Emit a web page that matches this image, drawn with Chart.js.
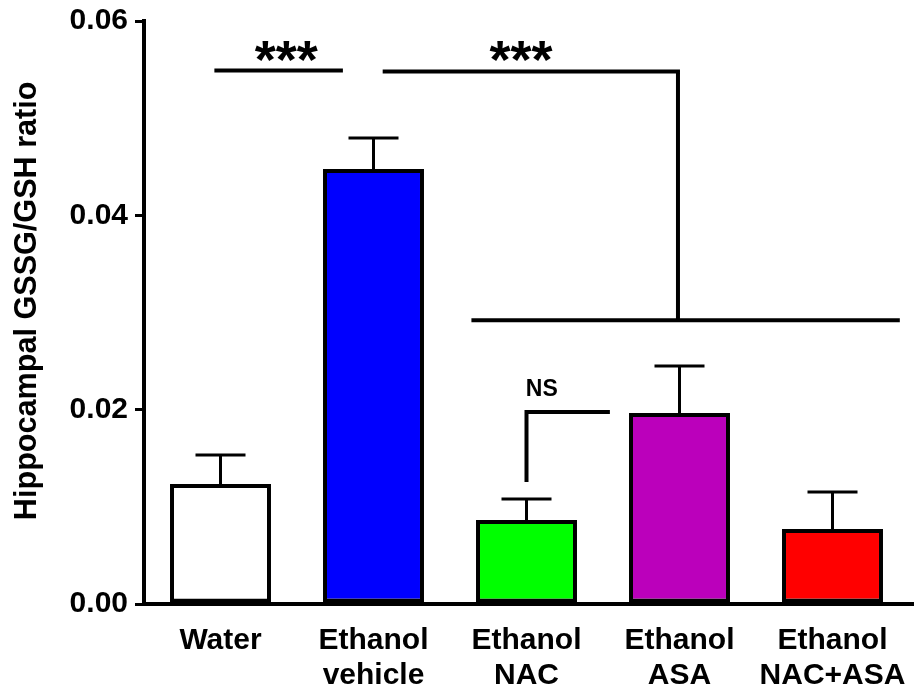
<!DOCTYPE html>
<html>
<head>
<meta charset="utf-8">
<script src="https://cdn.jsdelivr.net/npm/chart.js@4.4.1/dist/chart.umd.min.js"></script>
<style>
html,body{margin:0;padding:0;background:#fff;}
#wrap{width:917px;height:694px;}
</style>
</head>
<body>
<div id="wrap"><canvas id="c" width="917" height="694"></canvas></div>
<script>
// ---- data ----
const categories = [["Water"], ["Ethanol", "vehicle"], ["Ethanol", "NAC"], ["Ethanol", "ASA"], ["Ethanol", "NAC+ASA"]];
const means = [0.01235, 0.04477, 0.00864, 0.01966, 0.00772];
const errors = [0.00298, 0.00319, 0.00217, 0.00483, 0.00381];
const barColors = ["#ffffff", "#0000ff", "#00ff00", "#bb00bb", "#ff0000"];
const yTicks = [0, 0.02, 0.04, 0.06];
const yTitle = "Hippocampal GSSG/GSH ratio";
// significance brackets in data units (x = category index, y = value)
const brackets = [
  [[-0.04, 0.0549], [0.80, 0.0549]],
  [[1.06, 0.0548], [2.99, 0.0548], [2.99, 0.0292]],
  [[1.64, 0.0292], [4.44, 0.0292]],
  [[2.0, 0.01256], [2.0, 0.01976], [2.545, 0.01976]]
];
const sigLabels = [
  {text: "***", x: 0.43, y: 0.0569, size: 54},
  {text: "***", x: 1.964, y: 0.0569, size: 54},
  {text: "NS", x: 2.10, y: 0.02223, size: 23}
];

const FONT = "'Liberation Sans', Arial, Helvetica, sans-serif";

const overlay = {
  id: 'overlay',
  afterDatasetsDraw(chart) {
    const ctx = chart.ctx;
    const xs = chart.scales.x, ys = chart.scales.y;
    const meta = chart.getDatasetMeta(0);
    ctx.save();
    ctx.strokeStyle = '#000';
    ctx.lineCap = 'butt';
    // error bars
    ctx.lineWidth = 3;
    meta.data.forEach((bar, i) => {
      const top = ys.getPixelForValue(means[i]);
      const et = ys.getPixelForValue(means[i] + errors[i]);
      ctx.beginPath();
      ctx.moveTo(bar.x, top);
      ctx.lineTo(bar.x, et);
      ctx.moveTo(bar.x - 25, et);
      ctx.lineTo(bar.x + 25, et);
      ctx.stroke();
    });
    // extend x axis line to right edge
    ctx.lineWidth = 4;
    ctx.beginPath();
    ctx.moveTo(chart.chartArea.right - 2, ys.getPixelForValue(0));
    ctx.lineTo(chart.chartArea.right + 5, ys.getPixelForValue(0));
    ctx.stroke();
    // brackets
    ctx.lineWidth = 4;
    ctx.lineJoin = 'miter';
    brackets.forEach(pts => {
      ctx.beginPath();
      pts.forEach((p, k) => {
        const px = xs.getPixelForValue(p[0]) , py = ys.getPixelForValue(p[1]);
        if (k === 0) ctx.moveTo(px, py); else ctx.lineTo(px, py);
      });
      ctx.stroke();
    });
    // labels
    ctx.fillStyle = '#000';
    sigLabels.forEach(l => {
      ctx.font = 'bold ' + l.size + 'px ' + FONT;
      ctx.textAlign = 'center';
      ctx.textBaseline = 'alphabetic';
      const m = ctx.measureText(l.text);
      const cx = xs.getPixelForValue(l.x);
      const cy = ys.getPixelForValue(l.y);
      const base = cy + (m.actualBoundingBoxAscent - m.actualBoundingBoxDescent) / 2;
      ctx.fillText(l.text, cx, base);
    });
    // y axis title
    ctx.save();
    ctx.font = 'bold 30.6px ' + FONT;
    ctx.textAlign = 'center';
    ctx.textBaseline = 'middle';
    ctx.translate(28, ys.getPixelForValue(0.0312));
    ctx.rotate(-Math.PI / 2);
    ctx.fillText(yTitle, 0, 0);
    ctx.restore();
    ctx.restore();
  }
};

new Chart(document.getElementById('c'), {
  type: 'bar',
  data: {
    labels: categories,
    datasets: [{
      data: means,
      backgroundColor: barColors,
      borderColor: '#000',
      borderWidth: 4,
      borderSkipped: false,
      barPercentage: 0.66,
      categoryPercentage: 1.0
    }]
  },
  options: {
    responsive: false,
    animation: false,
    devicePixelRatio: 1,
    layout: {padding: {left: 0, right: 8, top: 21, bottom: 0}},
    plugins: {legend: {display: false}, tooltip: {enabled: false}},
    scales: {
      x: {
        grid: {display: false},
        border: {display: true, color: '#000', width: 4},
        ticks: {
          color: '#000',
          font: {family: FONT, size: 30, weight: 'bold', lineHeight: 1.17},
          padding: 11,
          maxRotation: 0,
          autoSkip: false
        },
        afterFit(scale) { scale.height = 90; scale.paddingLeft = 0; scale.paddingRight = 0; }
      },
      y: {
        min: 0, max: 0.06,
        afterBuildTicks(scale) { scale.ticks = yTicks.map(v => ({value: v})); },
        grid: {display: true, drawOnChartArea: false, drawTicks: true, tickLength: 9, color: '#000', lineWidth: 3},
        border: {display: true, color: '#000', width: 4},
        ticks: {
          color: '#000',
          font: {family: FONT, size: 30, weight: 'bold'},
          padding: 7,
          callback: v => Number(v).toFixed(2)
        },
        title: {display: false, text: yTitle},
        afterFit(scale) { scale.width = 144; scale.paddingTop = 0; scale.paddingBottom = 0; }
      }
    }
  },
  plugins: [overlay]
});
</script>
</body>
</html>
